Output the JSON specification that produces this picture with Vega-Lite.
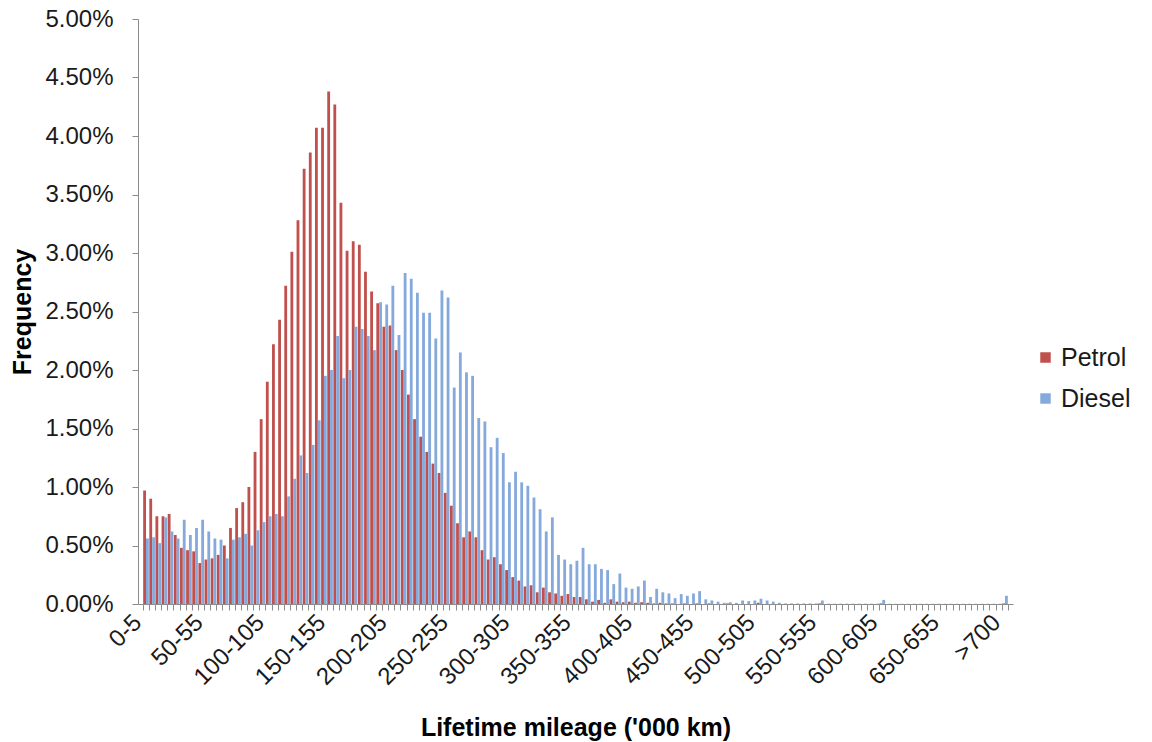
{
  "$schema": "https://vega.github.io/schema/vega-lite/v6.json",
  "width": 875,
  "height": 585,
  "autosize": {"type": "none"},
  "padding": {"left": 138, "top": 19, "right": 139, "bottom": 138},
  "background": "white",
  "config": {"view": {"stroke": null}, "font": "Liberation Sans"},
  "data": {"values": [
    {"c":"0-5","f":"Petrol","v":0.97},{"c":"5-10","f":"Petrol","v":0.90},{"c":"10-15","f":"Petrol","v":0.75},{"c":"15-20","f":"Petrol","v":0.75},{"c":"20-25","f":"Petrol","v":0.77},
    {"c":"25-30","f":"Petrol","v":0.59},{"c":"30-35","f":"Petrol","v":0.48},{"c":"35-40","f":"Petrol","v":0.46},{"c":"40-45","f":"Petrol","v":0.45},{"c":"45-50","f":"Petrol","v":0.35},
    {"c":"50-55","f":"Petrol","v":0.38},{"c":"55-60","f":"Petrol","v":0.39},{"c":"60-65","f":"Petrol","v":0.42},{"c":"65-70","f":"Petrol","v":0.50},{"c":"70-75","f":"Petrol","v":0.65},
    {"c":"75-80","f":"Petrol","v":0.82},{"c":"80-85","f":"Petrol","v":0.87},{"c":"85-90","f":"Petrol","v":1.00},{"c":"90-95","f":"Petrol","v":1.30},{"c":"95-100","f":"Petrol","v":1.58},
    {"c":"100-105","f":"Petrol","v":1.90},{"c":"105-110","f":"Petrol","v":2.22},{"c":"110-115","f":"Petrol","v":2.43},{"c":"115-120","f":"Petrol","v":2.72},{"c":"120-125","f":"Petrol","v":3.01},
    {"c":"125-130","f":"Petrol","v":3.28},{"c":"130-135","f":"Petrol","v":3.72},{"c":"135-140","f":"Petrol","v":3.86},{"c":"140-145","f":"Petrol","v":4.07},{"c":"145-150","f":"Petrol","v":4.07},
    {"c":"150-155","f":"Petrol","v":4.38},{"c":"155-160","f":"Petrol","v":4.27},{"c":"160-165","f":"Petrol","v":3.43},{"c":"165-170","f":"Petrol","v":3.02},{"c":"170-175","f":"Petrol","v":3.10},
    {"c":"175-180","f":"Petrol","v":3.07},{"c":"180-185","f":"Petrol","v":2.84},{"c":"185-190","f":"Petrol","v":2.67},{"c":"190-195","f":"Petrol","v":2.57},{"c":"195-200","f":"Petrol","v":2.37},
    {"c":"200-205","f":"Petrol","v":2.38},{"c":"205-210","f":"Petrol","v":2.17},{"c":"210-215","f":"Petrol","v":2.00},{"c":"215-220","f":"Petrol","v":1.79},{"c":"220-225","f":"Petrol","v":1.58},
    {"c":"225-230","f":"Petrol","v":1.43},{"c":"230-235","f":"Petrol","v":1.30},{"c":"235-240","f":"Petrol","v":1.20},{"c":"240-245","f":"Petrol","v":1.12},{"c":"245-250","f":"Petrol","v":0.95},
    {"c":"250-255","f":"Petrol","v":0.84},{"c":"255-260","f":"Petrol","v":0.69},{"c":"260-265","f":"Petrol","v":0.57},{"c":"265-270","f":"Petrol","v":0.62},{"c":"270-275","f":"Petrol","v":0.57},
    {"c":"275-280","f":"Petrol","v":0.46},{"c":"280-285","f":"Petrol","v":0.38},{"c":"285-290","f":"Petrol","v":0.40},{"c":"290-295","f":"Petrol","v":0.34},{"c":"295-300","f":"Petrol","v":0.29},
    {"c":"300-305","f":"Petrol","v":0.23},{"c":"305-310","f":"Petrol","v":0.20},{"c":"310-315","f":"Petrol","v":0.15},{"c":"315-320","f":"Petrol","v":0.16},{"c":"320-325","f":"Petrol","v":0.10},
    {"c":"325-330","f":"Petrol","v":0.14},{"c":"330-335","f":"Petrol","v":0.10},{"c":"335-340","f":"Petrol","v":0.09},{"c":"340-345","f":"Petrol","v":0.07},{"c":"345-350","f":"Petrol","v":0.085},
    {"c":"350-355","f":"Petrol","v":0.06},{"c":"355-360","f":"Petrol","v":0.06},{"c":"360-365","f":"Petrol","v":0.04},{"c":"365-370","f":"Petrol","v":0.02},{"c":"370-375","f":"Petrol","v":0.035},
    {"c":"375-380","f":"Petrol","v":0.01},{"c":"380-385","f":"Petrol","v":0.04},{"c":"385-390","f":"Petrol","v":0.02},{"c":"390-395","f":"Petrol","v":0.015},{"c":"395-400","f":"Petrol","v":0.02},
    {"c":"400-405","f":"Petrol","v":0.01},{"c":"405-410","f":"Petrol","v":0.015},{"c":"410-415","f":"Petrol","v":0.01},{"c":"415-420","f":"Petrol","v":0.005},{"c":"420-425","f":"Petrol","v":0.01},
    {"c":"425-430","f":"Petrol","v":0.005},{"c":"430-435","f":"Petrol","v":0.005},{"c":"435-440","f":"Petrol","v":0},{"c":"440-445","f":"Petrol","v":0.005},{"c":"445-450","f":"Petrol","v":0},
    {"c":"450-455","f":"Petrol","v":0.005},{"c":"455-460","f":"Petrol","v":0},{"c":"460-465","f":"Petrol","v":0.005},{"c":"465-470","f":"Petrol","v":0},{"c":"470-475","f":"Petrol","v":0},
    {"c":"475-480","f":"Petrol","v":0.005},{"c":"480-485","f":"Petrol","v":0},{"c":"485-490","f":"Petrol","v":0},{"c":"490-495","f":"Petrol","v":0},{"c":"495-500","f":"Petrol","v":0},
    {"c":"500-505","f":"Petrol","v":0.01},{"c":"505-510","f":"Petrol","v":0},{"c":"510-515","f":"Petrol","v":0},{"c":"515-520","f":"Petrol","v":0},{"c":"520-525","f":"Petrol","v":0},
    {"c":"525-530","f":"Petrol","v":0},{"c":"530-535","f":"Petrol","v":0},{"c":"535-540","f":"Petrol","v":0},{"c":"540-545","f":"Petrol","v":0},{"c":"545-550","f":"Petrol","v":0},
    {"c":"550-555","f":"Petrol","v":0.005},{"c":"555-560","f":"Petrol","v":0},{"c":"560-565","f":"Petrol","v":0},{"c":"565-570","f":"Petrol","v":0},{"c":"570-575","f":"Petrol","v":0},
    {"c":"575-580","f":"Petrol","v":0},{"c":"580-585","f":"Petrol","v":0},{"c":"585-590","f":"Petrol","v":0},{"c":"590-595","f":"Petrol","v":0},{"c":"595-600","f":"Petrol","v":0},
    {"c":"600-605","f":"Petrol","v":0.005},{"c":"605-610","f":"Petrol","v":0},{"c":"610-615","f":"Petrol","v":0},{"c":"615-620","f":"Petrol","v":0},{"c":"620-625","f":"Petrol","v":0},
    {"c":"625-630","f":"Petrol","v":0},{"c":"630-635","f":"Petrol","v":0},{"c":"635-640","f":"Petrol","v":0},{"c":"640-645","f":"Petrol","v":0},{"c":"645-650","f":"Petrol","v":0},
    {"c":"650-655","f":"Petrol","v":0},{"c":"655-660","f":"Petrol","v":0},{"c":"660-665","f":"Petrol","v":0},{"c":"665-670","f":"Petrol","v":0},{"c":"670-675","f":"Petrol","v":0},
    {"c":"675-680","f":"Petrol","v":0},{"c":"680-685","f":"Petrol","v":0},{"c":"685-690","f":"Petrol","v":0},{"c":"690-695","f":"Petrol","v":0},{"c":"695-700","f":"Petrol","v":0},
    {"c":">700","f":"Petrol","v":0.005},

    {"c":"0-5","f":"Diesel","v":0.56},{"c":"5-10","f":"Diesel","v":0.57},{"c":"10-15","f":"Diesel","v":0.52},{"c":"15-20","f":"Diesel","v":0.74},{"c":"20-25","f":"Diesel","v":0.62},
    {"c":"25-30","f":"Diesel","v":0.56},{"c":"30-35","f":"Diesel","v":0.72},{"c":"35-40","f":"Diesel","v":0.59},{"c":"40-45","f":"Diesel","v":0.65},{"c":"45-50","f":"Diesel","v":0.72},
    {"c":"50-55","f":"Diesel","v":0.62},{"c":"55-60","f":"Diesel","v":0.56},{"c":"60-65","f":"Diesel","v":0.55},{"c":"65-70","f":"Diesel","v":0.39},{"c":"70-75","f":"Diesel","v":0.55},
    {"c":"75-80","f":"Diesel","v":0.57},{"c":"80-85","f":"Diesel","v":0.60},{"c":"85-90","f":"Diesel","v":0.50},{"c":"90-95","f":"Diesel","v":0.63},{"c":"95-100","f":"Diesel","v":0.70},
    {"c":"100-105","f":"Diesel","v":0.75},{"c":"105-110","f":"Diesel","v":0.77},{"c":"110-115","f":"Diesel","v":0.75},{"c":"115-120","f":"Diesel","v":0.92},{"c":"120-125","f":"Diesel","v":1.07},
    {"c":"125-130","f":"Diesel","v":1.27},{"c":"130-135","f":"Diesel","v":1.12},{"c":"135-140","f":"Diesel","v":1.36},{"c":"140-145","f":"Diesel","v":1.57},{"c":"145-150","f":"Diesel","v":1.95},
    {"c":"150-155","f":"Diesel","v":2.00},{"c":"155-160","f":"Diesel","v":2.29},{"c":"160-165","f":"Diesel","v":1.93},{"c":"165-170","f":"Diesel","v":2.00},{"c":"170-175","f":"Diesel","v":2.37},
    {"c":"175-180","f":"Diesel","v":2.35},{"c":"180-185","f":"Diesel","v":2.29},{"c":"185-190","f":"Diesel","v":2.17},{"c":"190-195","f":"Diesel","v":2.58},{"c":"195-200","f":"Diesel","v":2.56},
    {"c":"200-205","f":"Diesel","v":2.72},{"c":"205-210","f":"Diesel","v":2.30},{"c":"210-215","f":"Diesel","v":2.83},{"c":"215-220","f":"Diesel","v":2.78},{"c":"220-225","f":"Diesel","v":2.66},
    {"c":"225-230","f":"Diesel","v":2.49},{"c":"230-235","f":"Diesel","v":2.49},{"c":"235-240","f":"Diesel","v":2.27},{"c":"240-245","f":"Diesel","v":2.68},{"c":"245-250","f":"Diesel","v":2.62},
    {"c":"250-255","f":"Diesel","v":1.85},{"c":"255-260","f":"Diesel","v":2.15},{"c":"260-265","f":"Diesel","v":1.98},{"c":"265-270","f":"Diesel","v":1.95},{"c":"270-275","f":"Diesel","v":1.59},
    {"c":"275-280","f":"Diesel","v":1.56},{"c":"280-285","f":"Diesel","v":1.34},{"c":"285-290","f":"Diesel","v":1.42},{"c":"290-295","f":"Diesel","v":1.29},{"c":"295-300","f":"Diesel","v":1.04},
    {"c":"300-305","f":"Diesel","v":1.13},{"c":"305-310","f":"Diesel","v":1.04},{"c":"310-315","f":"Diesel","v":1.01},{"c":"315-320","f":"Diesel","v":0.91},{"c":"320-325","f":"Diesel","v":0.81},
    {"c":"325-330","f":"Diesel","v":0.62},{"c":"330-335","f":"Diesel","v":0.74},{"c":"335-340","f":"Diesel","v":0.42},{"c":"340-345","f":"Diesel","v":0.38},{"c":"345-350","f":"Diesel","v":0.34},
    {"c":"350-355","f":"Diesel","v":0.37},{"c":"355-360","f":"Diesel","v":0.48},{"c":"360-365","f":"Diesel","v":0.34},{"c":"365-370","f":"Diesel","v":0.34},{"c":"370-375","f":"Diesel","v":0.30},
    {"c":"375-380","f":"Diesel","v":0.29},{"c":"380-385","f":"Diesel","v":0.17},{"c":"385-390","f":"Diesel","v":0.26},{"c":"390-395","f":"Diesel","v":0.14},{"c":"395-400","f":"Diesel","v":0.13},
    {"c":"400-405","f":"Diesel","v":0.15},{"c":"405-410","f":"Diesel","v":0.20},{"c":"410-415","f":"Diesel","v":0.06},{"c":"415-420","f":"Diesel","v":0.13},{"c":"420-425","f":"Diesel","v":0.10},
    {"c":"425-430","f":"Diesel","v":0.09},{"c":"430-435","f":"Diesel","v":0.05},{"c":"435-440","f":"Diesel","v":0.085},{"c":"440-445","f":"Diesel","v":0.07},{"c":"445-450","f":"Diesel","v":0.09},
    {"c":"450-455","f":"Diesel","v":0.11},{"c":"455-460","f":"Diesel","v":0.04},{"c":"460-465","f":"Diesel","v":0.03},{"c":"465-470","f":"Diesel","v":0.02},{"c":"470-475","f":"Diesel","v":0.01},
    {"c":"475-480","f":"Diesel","v":0.015},{"c":"480-485","f":"Diesel","v":0.01},{"c":"485-490","f":"Diesel","v":0.03},{"c":"490-495","f":"Diesel","v":0.025},{"c":"495-500","f":"Diesel","v":0.03},
    {"c":"500-505","f":"Diesel","v":0.045},{"c":"505-510","f":"Diesel","v":0.03},{"c":"510-515","f":"Diesel","v":0.02},{"c":"515-520","f":"Diesel","v":0.01},{"c":"520-525","f":"Diesel","v":0.005},
    {"c":"525-530","f":"Diesel","v":0.005},{"c":"530-535","f":"Diesel","v":0.005},{"c":"535-540","f":"Diesel","v":0.005},{"c":"540-545","f":"Diesel","v":0.005},{"c":"545-550","f":"Diesel","v":0.005},
    {"c":"550-555","f":"Diesel","v":0.03},{"c":"555-560","f":"Diesel","v":0.003},{"c":"560-565","f":"Diesel","v":0.003},{"c":"565-570","f":"Diesel","v":0.003},{"c":"570-575","f":"Diesel","v":0.003},
    {"c":"575-580","f":"Diesel","v":0.003},{"c":"580-585","f":"Diesel","v":0.003},{"c":"585-590","f":"Diesel","v":0.003},{"c":"590-595","f":"Diesel","v":0.003},{"c":"595-600","f":"Diesel","v":0.003},
    {"c":"600-605","f":"Diesel","v":0.035},{"c":"605-610","f":"Diesel","v":0.002},{"c":"610-615","f":"Diesel","v":0.002},{"c":"615-620","f":"Diesel","v":0.002},{"c":"620-625","f":"Diesel","v":0.002},
    {"c":"625-630","f":"Diesel","v":0.002},{"c":"630-635","f":"Diesel","v":0.002},{"c":"635-640","f":"Diesel","v":0.002},{"c":"640-645","f":"Diesel","v":0.002},{"c":"645-650","f":"Diesel","v":0.002},
    {"c":"650-655","f":"Diesel","v":0.002},{"c":"655-660","f":"Diesel","v":0.002},{"c":"660-665","f":"Diesel","v":0.002},{"c":"665-670","f":"Diesel","v":0.002},{"c":"670-675","f":"Diesel","v":0.002},
    {"c":"675-680","f":"Diesel","v":0.002},{"c":"680-685","f":"Diesel","v":0.002},{"c":"685-690","f":"Diesel","v":0.002},{"c":"690-695","f":"Diesel","v":0.002},{"c":"695-700","f":"Diesel","v":0.002},
    {"c":">700","f":"Diesel","v":0.07}
  ]},
  "mark": {"type": "bar"},
  "encoding": {
    "x": {
      "field": "c",
      "type": "ordinal",
      "sort": null,
      "scale": {"paddingInner": 0.08, "paddingOuter": 0.844},
      "axis": {
        "title": "Lifetime mileage ('000 km)",
        "labelAngle": -45,
        "labelAlign": "right",
        "labelBaseline": "bottom",
        "labelOverlap": false,
        "labelExpr": "indexof(['0-5','50-55','100-105','150-155','200-205','250-255','300-305','350-355','400-405','450-455','500-505','550-555','600-605','650-655','>700'], datum.value) >= 0 ? datum.value : ''",
        "labelFontSize": 24,
        "labelColor": "#1a1a1a",
        "labelPadding": 17,
        "tickBand": "extent",
        "tickSize": 6,
        "tickColor": "#8c8c8c",
        "domainColor": "#8c8c8c",
        "titleFontSize": 25,
        "titleFontWeight": "bold",
        "titleColor": "#000000",
        "titlePadding": 26
      }
    },
    "xOffset": {
      "field": "f",
      "type": "nominal",
      "sort": ["Petrol", "Diesel"],
      "scale": {"paddingInner": 0, "paddingOuter": 0}
    },
    "y": {
      "field": "v",
      "type": "quantitative",
      "scale": {"domain": [0, 5], "nice": false},
      "axis": {
        "title": "Frequency",
        "values": [0, 0.5, 1, 1.5, 2, 2.5, 3, 3.5, 4, 4.5, 5],
        "labelExpr": "format(datum.value, '.2f') + '%'",
        "grid": false,
        "tickSize": 6,
        "tickColor": "#8c8c8c",
        "domainColor": "#8c8c8c",
        "labelFontSize": 24,
        "labelColor": "#1a1a1a",
        "labelPadding": 19,
        "titleFontSize": 25,
        "titleFontWeight": "bold",
        "titleColor": "#000000",
        "titlePadding": 9
      }
    },
    "color": {
      "field": "f",
      "type": "nominal",
      "sort": ["Petrol", "Diesel"],
      "scale": {"domain": ["Petrol", "Diesel"], "range": ["#C0504D", "#86A9DC"]},
      "legend": {
        "title": null,
        "orient": "none",
        "legendX": 895,
        "legendY": 326,
        "padding": 0,
        "symbolType": "square",
        "symbolSize": 110,
        "symbolStrokeWidth": 0,
        "labelFontSize": 25,
        "labelColor": "#1a1a1a",
        "labelOffset": 3,
        "rowPadding": 15
      }
    }
  }
}
